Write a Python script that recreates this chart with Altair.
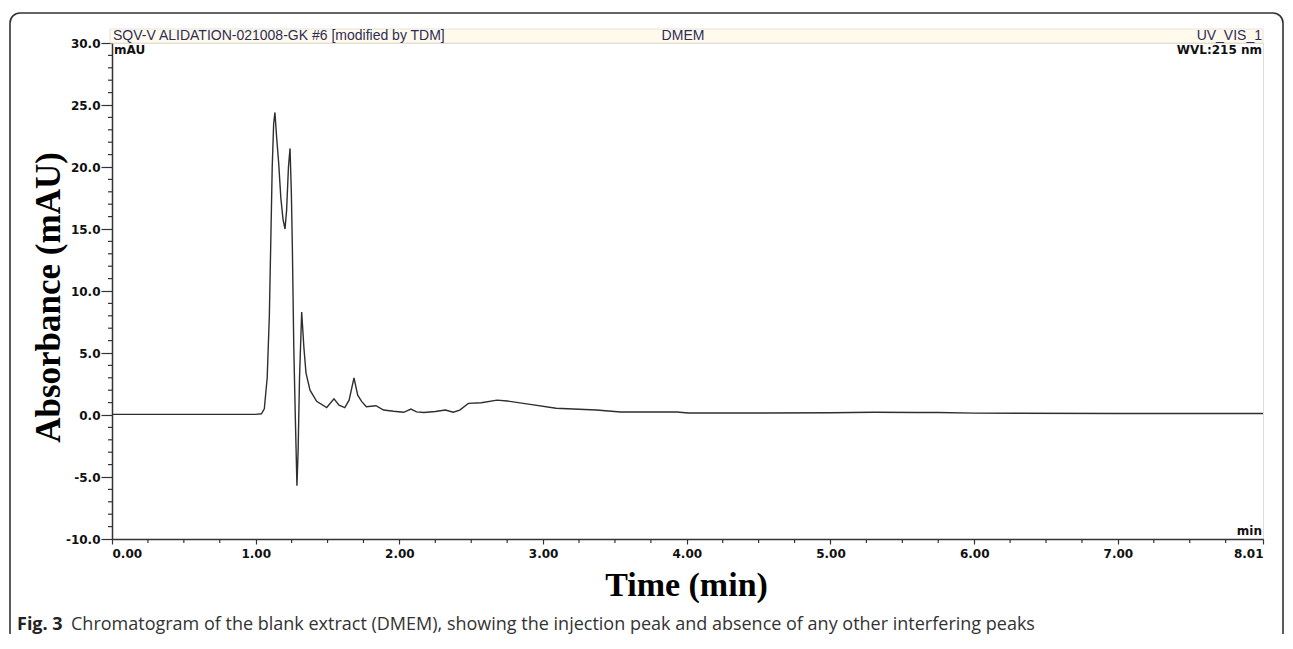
import altair as alt
import pandas as pd

# ---- data ----
time_min = [0.00, 0.50, 1.00, 1.04, 1.06, 1.08, 1.095, 1.105, 1.115, 1.125,
            1.134, 1.145, 1.16, 1.175, 1.19, 1.204, 1.215, 1.228, 1.239, 1.248,
            1.255, 1.265, 1.275, 1.287, 1.295, 1.305, 1.32, 1.335, 1.35, 1.378,
            1.424, 1.494, 1.545, 1.58, 1.62, 1.65, 1.684, 1.71, 1.737, 1.77,
            1.837, 1.89, 1.96, 2.03, 2.08, 2.12, 2.17, 2.25, 2.32, 2.375,
            2.42, 2.48, 2.57, 2.68, 2.75, 2.91, 3.09, 3.37, 3.54, 3.93,
            4.01, 4.30, 5.00, 5.30, 5.60, 5.75, 6.00, 7.00, 8.01]
absorbance = [0.05, 0.05, 0.05, 0.1, 0.5, 3.0, 8.0, 14.0, 20.0, 23.5,
              24.4, 22.5, 20.3, 17.5, 15.8, 15.0, 16.5, 20.0, 21.5, 18.0,
              13.6, 5.5, 0.2, -5.7, -3.0, 3.0, 8.3, 5.5, 3.4, 2.0,
              1.1, 0.6, 1.3, 0.8, 0.6, 1.2, 3.0, 1.6, 1.1, 0.67,
              0.75, 0.4, 0.3, 0.22, 0.48, 0.25, 0.2, 0.28, 0.4, 0.22,
              0.4, 0.94, 0.99, 1.2, 1.13, 0.86, 0.54, 0.4, 0.24, 0.24,
              0.16, 0.16, 0.18, 0.22, 0.2, 0.2, 0.15, 0.12, 0.12]

x_ticks = [0, 1, 2, 3, 4, 5, 6, 7, 8.01]
y_ticks = [-10, -5, 0, 5, 10, 15, 20, 25, 30]
x_minor = [q / 4 for q in range(0, 33) if q % 4 != 0]
y_minor = [v for v in range(-10, 31) if v % 5 != 0]

header_left = "SQV-V ALIDATION-021008-GK #6 [modified by TDM]"
header_mid = "DMEM"
header_right = "UV_VIS_1"
caption_bold = "Fig. 3"
caption_text = ("Chromatogram of the blank extract (DMEM), showing the injection peak "
                "and absence of any other interfering peaks")

W, H = 1151, 496
tick_font = "DejaVu Sans"

df = pd.DataFrame({"t": time_min, "v": absorbance})
one = pd.DataFrame({"a": [0]})

xscale = alt.Scale(domain=[0, 8.01], nice=False, zero=False)
yscale = alt.Scale(domain=[-10, 30], nice=False, zero=False)

x_axis = alt.Axis(values=x_ticks, format=".2f", grid=False, tickSize=5,
                  labelPadding=4, labelFont=tick_font, labelFontWeight="bold",
                  labelFontSize=12, labelColor="#111", domainColor="#333",
                  domainWidth=1.5, tickColor="#333", tickWidth=1.2,
                  title="Time (min)", titleFont="Liberation Serif",
                  titleFontSize=34, titleFontWeight="bold", titleColor="#000",
                  titleX=574, titleY=46, titleBaseline="middle", titleAlign="center")
y_axis = alt.Axis(values=y_ticks, format=".1f", grid=False, tickSize=11,
                  labelExpr="replace(format(datum.value, '.1f'), '\u2212', '-')",
                  labelPadding=1, labelFont=tick_font, labelFontWeight="bold",
                  labelFontSize=12, labelColor="#111", domainColor="#333",
                  domainWidth=1.5, tickColor="#333", tickWidth=1.2,
                  title="Absorbance (mAU)", titleFont="Liberation Serif",
                  titleFontSize=35, titleFontWeight="bold", titleColor="#000",
                  titleX=-64, titleY=254, titleAngle=270, titleBaseline="middle",
                  titleAlign="center")

line = alt.Chart(df).mark_line(color="#2e2e2e", strokeWidth=1.4, interpolate="linear").encode(
    x=alt.X("t:Q", scale=xscale, axis=x_axis),
    y=alt.Y("v:Q", scale=yscale, axis=y_axis),
)

frame = alt.Chart(one).mark_rect(filled=False, stroke="#333", strokeWidth=1.6,
                                 cornerRadius=10).encode(
    x=alt.value(-102), x2=alt.value(1171), y=alt.value(-30), y2=alt.value(620))

header = alt.Chart(one).mark_rect(fill="#fffaec", stroke="#e6e2d6", strokeWidth=1).encode(
    x=alt.value(-2), x2=alt.value(W), y=alt.value(-14), y2=alt.value(0))

htxt_style = dict(font="Liberation Sans", fontSize=14, color="#2d2d5a", baseline="middle")
h_left = alt.Chart(one).mark_text(align="left", **htxt_style).encode(
    x=alt.value(1), y=alt.value(-7), text=alt.value(header_left))
h_mid = alt.Chart(one).mark_text(align="center", **htxt_style).encode(
    x=alt.value(571), y=alt.value(-7), text=alt.value(header_mid))
h_right = alt.Chart(one).mark_text(align="right", **htxt_style).encode(
    x=alt.value(W - 1), y=alt.value(-7), text=alt.value(header_right))

in_style = dict(font=tick_font, fontWeight="bold", fontSize=12, color="#111", baseline="middle")
mau = alt.Chart(one).mark_text(align="left", **in_style).encode(
    x=alt.value(2), y=alt.value(7), text=alt.value("mAU"))
wvl = alt.Chart(one).mark_text(align="right", **in_style).encode(
    x=alt.value(W - 1), y=alt.value(7), text=alt.value("WVL:215 nm"))
mn = alt.Chart(one).mark_text(align="right", **in_style).encode(
    x=alt.value(W - 1), y=alt.value(H - 8), text=alt.value("min"))

xm = alt.Chart(pd.DataFrame({"t": x_minor})).mark_rule(color="#333", strokeWidth=1.2).encode(
    x=alt.X("t:Q", scale=xscale, title="Time (min)"),
    y=alt.value(H), y2=alt.value(H + 4))
ym = alt.Chart(pd.DataFrame({"v": y_minor})).mark_rule(color="#333", strokeWidth=1.2).encode(
    y=alt.Y("v:Q", scale=yscale, title="Absorbance (mAU)"),
    x=alt.value(-4), x2=alt.value(0))

cap1 = alt.Chart(one).mark_text(align="left", baseline="middle", font="Open Sans",
                                fontWeight="bold", fontSize=18, color="#222").encode(
    x=alt.value(-95), y=alt.value(582), text=alt.value(caption_bold))
cap2 = alt.Chart(one).mark_text(align="left", baseline="middle", font="Open Sans",
                                fontSize=18, color="#333").encode(
    x=alt.value(-41), y=alt.value(582), text=alt.value(caption_text))

chart = alt.layer(
    frame, header, line, xm, ym, h_left, h_mid, h_right, mau, wvl, mn, cap1, cap2
).properties(
    width=W, height=H,
    autosize=alt.AutoSizeParams(type="none"),
    padding={"left": 104, "top": 35, "right": 22, "bottom": 95},
).configure_view(stroke="#333", strokeWidth=1.5).configure(background="white")

chart.save("out.html", embed_options={"renderer": "svg", "actions": False})
